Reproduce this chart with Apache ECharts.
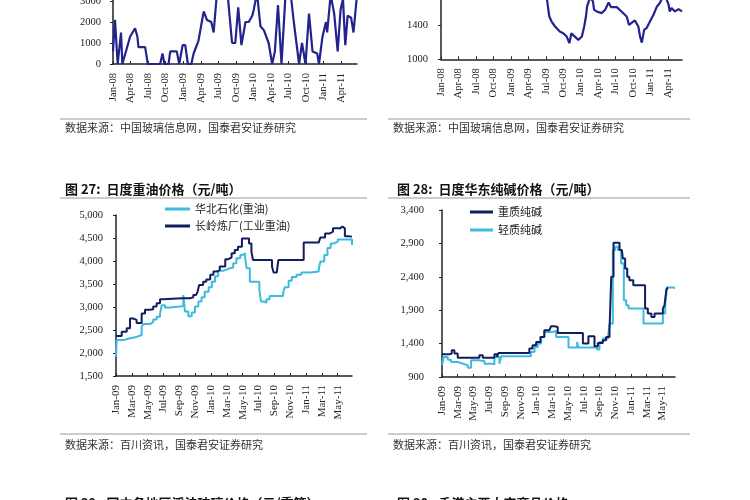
<!DOCTYPE html>
<html><head><meta charset="utf-8">
<script src="https://cdn.jsdelivr.net/npm/echarts@6/dist/echarts.min.js"></script>
<style>html,body{margin:0;padding:0;background:#fff;overflow:hidden}#c{position:absolute;left:0;top:-60px;width:750px;height:560px}</style>
</head><body><div id="c"></div>
<script>
// ---- tick labels ----
const ticks08 = ['Jan-08','Apr-08','Jul-08','Oct-08','Jan-09','Apr-09','Jul-09','Oct-09','Jan-10','Apr-10','Jul-10','Oct-10','Jan-11','Apr-11'];
const ticks09 = ['Jan-09','Mar-09','May-09','Jul-09','Sep-09','Nov-09','Jan-10','Mar-10','May-10','Jul-10','Sep-10','Nov-10','Jan-11','Mar-11','May-11'];

// ---- top-left chart (months since Jan-08) ----
const tlMonths = [0,0.34,0.8,1.37,1.6,1.93,2.92,3.77,4.17,4.35,5.49,5.95,8.06,8.46,8.8,9.49,9.78,10.9,11.32,11.9,12.35,12.8,13.38,13.78,14.6,15.5,16.06,16.8,17.2,17.8,18.6,19.5,20.35,20.9,21.4,21.95,22.64,23.2,23.8,24.07,24.6,25.2,25.8,26.6,27.2,27.66,28.2,28.8,29.5,30.3,30.9,31.8,32.3,32.9,33.5,34.1,34.9,35.2,35.8,36.4,36.6,37.2,37.8,38.4,38.9,39.3,39.7,40.1,40.7,41.1,41.7];
const tlValues = [600,2100,0,1500,0,0,1300,1700,1300,800,800,0,0,500,0,0,600,600,0,900,900,0,0,500,1100,2500,2100,2000,1500,3500,3300,3600,1000,1000,2700,900,2000,2000,2300,2600,3400,1800,1600,1000,0,600,2800,0,3400,3500,2000,0,1000,0,2400,600,500,0,1300,2000,1500,3300,2400,600,2600,3100,900,2300,2200,1500,3300];

// ---- top-right chart (months since Jan-08) ----
const trMonths = [0,3,6,9,12,15,17.5,18.2,18.6,19.0,19.6,20.4,21.0,21.6,22.05,22.4,22.85,23.6,24.2,24.6,24.9,25.1,25.6,26.1,26.3,26.75,27.6,28.2,28.8,29.2,30.2,31.0,31.9,32.3,32.8,33.3,33.9,34.2,34.5,34.9,35.3,35.9,36.5,37.1,37.6,37.9,38.5,39.1,39.3,39.6,40.2,40.8,41.4];
const trValues = [1900,1950,1950,1850,1800,1800,1800,1700,1497,1439,1381,1323,1303,1264,1187,1303,1272,1225,1264,1381,1497,1614,1720,1672,1575,1556,1536,1575,1661,1606,1606,1556,1497,1400,1427,1451,1381,1264,1194,1342,1361,1439,1517,1614,1653,1700,1740,1634,1556,1595,1556,1583,1556];

// ---- 图27 heavy oil (months since Jan-09) ----
const hbMonths = [0,0.08,0.93,1.77,2.6,3.24,3.45,4.29,4.7,5.13,5.56,5.77,6.19,6.82,8.08,8.5,8.71,9.13,9.55,9.97,10.4,10.8,11.2,11.7,12.1,12.5,12.9,13.6,14.2,14.8,15.2,15.7,16.0,16.3,16.5,16.9,17.8,18.1,18.3,18.7,19.0,19.4,21.1,21.3,21.8,22.2,22.8,23.4,24.5,25.6,25.8,26.3,26.7,27.1,27.5,28.0,29.3,29.8];
const hbValues = [1920,2280,2320,2350,2390,2570,2630,2670,2730,2790,2860,3040,2990,3010,3020,3260,2900,2800,2880,3010,3120,3210,3330,3430,3550,3670,3790,3830,3860,3950,4060,4130,4170,4080,3840,3550,3550,3370,3120,3090,3170,3240,3300,3430,3570,3650,3700,3750,3770,3820,3990,4130,4280,4380,4420,4470,4470,4350];
const clMonths = [0,0.72,1.35,1.77,2.19,2.6,3.24,3.66,4.29,4.7,5.13,5.56,5.98,8.29,9.34,9.76,10.1,10.3,10.5,11.0,11.4,11.9,12.3,12.7,13.1,13.8,14.2,14.6,15.0,15.4,15.9,16.5,16.8,17.1,17.3,19.4,19.7,19.9,20.3,20.5,23.7,25.6,25.8,26.4,27.0,27.4,28.3,28.6,28.9,29.3,29.8];
const clValues = [2370,2460,2540,2750,2720,2650,2860,2940,2950,3010,3080,3170,3190,3190,3210,3260,3220,3330,3480,3550,3600,3700,3770,3800,3880,4040,4080,4170,4240,4310,4490,4490,4380,4200,4020,4020,3880,3750,3750,4020,4400,4400,4510,4600,4640,4710,4750,4710,4540,4530,4530];

// ---- 图28 soda ash (months since Jan-09) ----
const heavyMonths = [0,0.94,1.24,1.58,2.0,4.75,5.18,6.66,7.0,7.17,11.1,11.5,11.96,12.5,13.0,13.65,13.86,14.3,14.7,17.9,18.6,19.37,19.8,20.43,20.85,21.28,21.5,21.79,22.55,22.85,22.97,23.27,23.53,23.8,24.3,25.8,26.15,26.6,27.0,28.06,28.27,28.5,28.7];
const heavyValues = [1240,1250,1300,1250,1190,1225,1190,1240,1200,1260,1325,1375,1425,1500,1600,1625,1660,1650,1560,1400,1510,1360,1410,1450,1500,1600,2400,2910,2800,2775,2675,2525,2400,2350,2275,1925,1850,1800,1850,1925,1975,2210,2240];
const lightMonths = [0,0.22,0.73,1.15,2.0,2.64,3.27,3.69,4.54,5.39,6.24,6.66,7.3,7.51,11.3,11.75,12.17,12.6,13.0,14.07,14.5,16.07,17.17,17.34,19.7,20.0,20.43,21.07,21.28,21.7,22.0,22.34,22.76,23.1,23.4,23.7,25.6,28.06,28.36,28.6,29.5];
const lightValues = [1075,1200,1160,1125,1100,1075,1040,1150,1140,1100,1090,1200,1100,1210,1275,1350,1400,1500,1575,1590,1500,1340,1425,1340,1310,1425,1475,1500,1700,2800,2850,2800,2600,2050,1975,1925,1700,1850,2000,2240,2220];

const zip = (a, b) => a.map((x, i) => [x, b[i]]);
const SERIF = '"Liberation Serif","DejaVu Serif",serif';
const CJK = '"Noto Sans CJK SC","Noto Sans",sans-serif';
const NAVY = '#121d60', CYAN = '#3cbbe0', BLUE1 = '#22238c';
const OY = 60; // the canvas starts 60px above the visible page

function xAxisCfg(gi, max, step, labels, fs) {
  return {
    type: 'value', gridIndex: gi, min: 0, max: max, interval: step,
    axisLine: { lineStyle: { color: '#222', width: 1.5 } },
    axisTick: { inside: true, length: 3, lineStyle: { color: '#222' } },
    splitLine: { show: false },
    axisLabel: {
      rotate: 90, margin: 9, fontFamily: SERIF, fontSize: fs, color: '#222',
      showMaxLabel: false,
      formatter: v => { const i = Math.round(v / step); return Math.abs(i * step - v) < 1e-6 && labels[i] ? labels[i] : ''; }
    }
  };
}
function yAxisCfg(gi, min, max, step, comma, margin) {
  return {
    type: 'value', gridIndex: gi, min: min, max: max, interval: step,
    axisLine: { show: true, lineStyle: { color: '#222', width: 1.5 } },
    axisTick: { show: true, length: 3, lineStyle: { color: '#222' } },
    splitLine: { show: false },
    axisLabel: {
      margin: margin, fontFamily: SERIF, fontSize: 10.5, color: '#222',
      formatter: v => comma ? v.toLocaleString('en-US') : String(v)
    }
  };
}
const hline = (x1, x2, y) => ({ type: 'line', shape: { x1: x1, y1: y + OY, x2: x2, y2: y + OY }, style: { stroke: '#999', lineWidth: 1 } });
const txt = (x, y, t, font, fill) => ({ type: 'text', x: x, y: y + OY, style: { text: t, font: font, fill: fill, verticalAlign: 'middle' } });

const option = {
  animation: false,
  backgroundColor: '#fff',
  grid: [
    { left: 113, top: OY - 20, width: 244, height: 84, outerBoundsMode: 'none' },
    { left: 441, top: OY - 44, width: 241, height: 103.3, outerBoundsMode: 'none' },
    { left: 116, top: OY + 215, width: 236, height: 161, outerBoundsMode: 'none' },
    { left: 442, top: OY + 210, width: 233, height: 167, outerBoundsMode: 'none' }
  ],
  xAxis: [
    xAxisCfg(0, 41.7, 3, ticks08, 10.5),
    xAxisCfg(1, 41.4, 3, ticks08, 10.5),
    xAxisCfg(2, 29.8, 2, ticks09, 11),
    xAxisCfg(3, 29.6, 2, ticks09, 11)
  ],
  yAxis: [
    yAxisCfg(0, 0, 4000, 1000, false, 12),
    yAxisCfg(1, 1000, 2200, 400, false, 13),
    yAxisCfg(2, 1500, 5000, 500, true, 13),
    yAxisCfg(3, 900, 3400, 500, true, 18)
  ],
  legend: [
    { data: ['华北石化(重油)', '长岭炼厂(工业重油)'], orient: 'vertical', left: 165, top: OY + 202, padding: 0,
      icon: 'rect', itemWidth: 25, itemHeight: 3, itemGap: 3,
      textStyle: { fontFamily: CJK, fontSize: 11, color: '#222', lineHeight: 14 } },
    { data: ['重质纯碱', '轻质纯碱'], orient: 'vertical', left: 470, top: OY + 205, padding: 0,
      icon: 'rect', itemWidth: 23, itemHeight: 3, itemGap: 4,
      textStyle: { fontFamily: CJK, fontSize: 11, color: '#222', lineHeight: 14 } }
  ],
  series: [
    { name: 'tl', type: 'line', xAxisIndex: 0, yAxisIndex: 0, data: zip(tlMonths, tlValues),
      showSymbol: false, lineStyle: { color: BLUE1, width: 2.2 }, itemStyle: { color: BLUE1 } },
    { name: 'tr', type: 'line', xAxisIndex: 1, yAxisIndex: 1, data: zip(trMonths, trValues),
      showSymbol: false, lineStyle: { color: BLUE1, width: 2.2 }, itemStyle: { color: BLUE1 } },
    { name: '华北石化(重油)', type: 'line', step: 'end', xAxisIndex: 2, yAxisIndex: 2, data: zip(hbMonths, hbValues),
      showSymbol: false, lineStyle: { color: CYAN, width: 2 }, itemStyle: { color: CYAN } },
    { name: '长岭炼厂(工业重油)', type: 'line', step: 'end', xAxisIndex: 2, yAxisIndex: 2, data: zip(clMonths, clValues),
      showSymbol: false, lineStyle: { color: NAVY, width: 2 }, itemStyle: { color: NAVY } },
    { name: '轻质纯碱', type: 'line', step: 'end', xAxisIndex: 3, yAxisIndex: 3, data: zip(lightMonths, lightValues),
      showSymbol: false, lineStyle: { color: CYAN, width: 2 }, itemStyle: { color: CYAN } },
    { name: '重质纯碱', type: 'line', step: 'end', xAxisIndex: 3, yAxisIndex: 3, data: zip(heavyMonths, heavyValues),
      showSymbol: false, lineStyle: { color: NAVY, width: 2 }, itemStyle: { color: NAVY } }
  ],
  graphic: [
    hline(60, 367, 119), hline(388, 690, 119),
    txt(65, 128, '数据来源：中国玻璃信息网，国泰君安证券研究', '11px ' + CJK, '#333'),
    txt(393, 128, '数据来源：中国玻璃信息网，国泰君安证券研究', '11px ' + CJK, '#333'),
    txt(65, 189, '图 27:  日度重油价格（元/吨）', 'bold 13px ' + CJK, '#111'),
    txt(397, 189, '图 28:  日度华东纯碱价格（元/吨）', 'bold 13px ' + CJK, '#111'),
    hline(60, 367, 198), hline(388, 690, 198),
    hline(60, 367, 434), hline(388, 690, 434),
    txt(65, 445, '数据来源：百川资讯，国泰君安证券研究', '11px ' + CJK, '#333'),
    txt(393, 445, '数据来源：百川资讯，国泰君安证券研究', '11px ' + CJK, '#333'),
    txt(65, 503, '图 29:  国内各地区浮法玻璃价格（元/重箱）', 'bold 13px ' + CJK, '#111'),
    txt(397, 503, '图 30:  香港主要大宗商品价格', 'bold 13px ' + CJK, '#111')
  ]
};
const chart = echarts.init(document.getElementById('c'), null, { renderer: 'canvas' });
chart.setOption(option);
</script>
</body></html>
